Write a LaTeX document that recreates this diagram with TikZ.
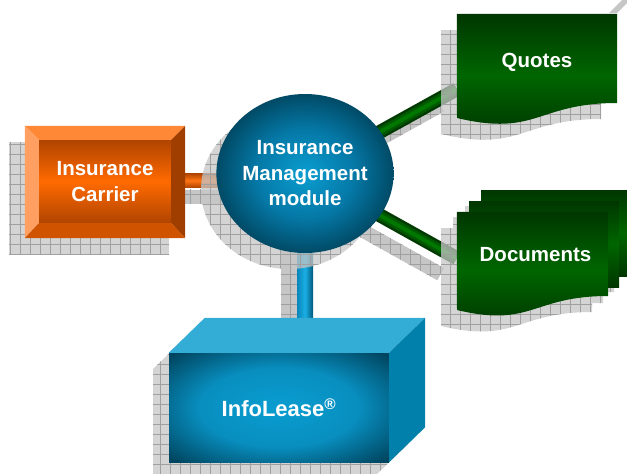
\documentclass[tikz,border=0pt]{standalone}
\usepackage{fontspec}
\setmainfont{Liberation Sans}
\usetikzlibrary{shapes.geometric,calc,patterns.meta}

\definecolor{orMid}{HTML}{FF6A00}
\definecolor{orDark}{HTML}{B04400}
\definecolor{orBar}{HTML}{FF7414}
\definecolor{orTop}{HTML}{FF8836}
\definecolor{orLeft}{HTML}{FFA062}
\definecolor{orRight}{HTML}{A03E00}
\definecolor{orBot}{HTML}{D05400}
\definecolor{blMid}{HTML}{0A9DD0}
\definecolor{blHalf}{HTML}{0578A6}
\definecolor{blDark}{HTML}{004660}
\definecolor{blTop}{HTML}{33ACD6}
\definecolor{blSide}{HTML}{0080AA}
\definecolor{blBarL}{HTML}{0A86BA}
\definecolor{blBarM}{HTML}{1AAEE4}
\definecolor{blBarR}{HTML}{00587A}
\definecolor{grMid}{HTML}{006600}
\definecolor{grDark}{HTML}{003600}
\definecolor{grBarA}{HTML}{003A00}
\definecolor{grBarB}{HTML}{005800}
\definecolor{grBarC}{HTML}{007800}
\definecolor{shGray}{HTML}{C6C6C6}
\definecolor{shLine}{HTML}{A0A0A0}

\pgfdeclareradialshading{facebright}{\pgfpoint{0bp}{0bp}}{color(0bp)=(blMid); color(14bp)=(blHalf); color(26bp)=(blDark); color(100bp)=(blDark)}
\pgfdeclareradialshading{boxbright}{\pgfpoint{0bp}{0bp}}{color(0bp)=(blMid); color(18bp)=(blMid!60!blHalf); color(34bp)=(blDark); color(100bp)=(blDark)}

\pgfdeclarelayer{barshade}
\pgfdeclarelayer{bar}
\pgfdeclarelayer{shade}
\pgfdeclarelayer{sheet}
\pgfsetlayers{barshade,bar,shade,sheet,main}

\begin{document}
\begin{tikzpicture}[x=1pt,y=-1pt]
\tikzset{
  txt/.style={text=white,font=\fontsize{20.5}{25.5}\selectfont\bfseries,align=center,inner sep=0pt},
  shadowfill/.style={preaction={fill=shGray},pattern={Hatch[distance=10pt,line width=0.7pt]},pattern color=shLine},
  greensheet/.style={top color=grDark,bottom color=grDark,middle color=grMid},
  orangeface/.style={txt,rectangle,minimum width=132pt,minimum height=83pt,top color=orDark,bottom color=orDark,middle color=orMid},
  blueface/.style={txt,shading=facebright}
}
\useasboundingbox (0,0) rectangle (627,474);

% insurance carrier
\node[orangeface] (carrier) at (105,181.5) {Insurance\\Carrier};
\fill[orTop] ([shift={(-14,-14)}]carrier.north west) -- ([shift={(14,-14)}]carrier.north east) -- (carrier.north east) -- (carrier.north west) -- cycle;
\fill[orLeft] ([shift={(-14,-14)}]carrier.north west) -- (carrier.north west) -- (carrier.south west) -- ([shift={(-14,15)}]carrier.south west) -- cycle;
\fill[orRight] ([shift={(14,-14)}]carrier.north east) -- ([shift={(14,15)}]carrier.south east) -- (carrier.south east) -- (carrier.north east) -- cycle;
\fill[orBot] ([shift={(-14,15)}]carrier.south west) -- (carrier.south west) -- (carrier.south east) -- ([shift={(14,15)}]carrier.south east) -- cycle;

% module
\node[blueface,ellipse,minimum width=176pt,minimum height=159pt] (module) at (305,173.5) {Insurance\\Management\\module};

% infolease box
\node[blueface,shading=boxbright,font=\fontsize{22}{26}\selectfont\bfseries,minimum width=220pt,minimum height=109pt] (info) at (279,407.5) {InfoLease\textsuperscript{®}};
\fill[blTop] (info.north west) -- ++(36,-35) -- ([shift={(36,-35)}]info.north east) -- (info.north east) -- cycle;
\fill[blSide] (info.north east) -- ([shift={(36,-35)}]info.north east) -- ([shift={(36,-35)}]info.south east) -- (info.south east) -- cycle;

% documents
\node[txt,minimum width=160pt,minimum height=97pt] (quotes) at (537,62.5) {Quotes};
\node[minimum width=151pt,minimum height=105pt] (docs) at (532.5,264.5) {};
\node[txt] (docslabel) at ([shift={(3,-10)}]docs.center) {Documents};

\coordinate (qin) at ($(quotes.west)!0.55!(quotes.south west)$);
\coordinate (din) at ($(docs.west)!0.12!(docs.north west)$);
\coordinate (qs) at ($(qin)+(-16,16)$);
\coordinate (ds) at ($(din)+(-16,16)$);
\coordinate (ms) at ($(module.center)+(-16,16)$);

\begin{pgfonlayer}{sheet}
\shade[greensheet] (481,190) rectangle (630,276);
\shade[greensheet] (469,201) rectangle (619,287);
\shade[greensheet] (docs.north west) -- (docs.north east) -- (608,296) .. controls (532,296) and (532,328) .. (457,310) -- cycle;
\shade[greensheet] (quotes.north west) -- (quotes.north east) -- (617,103) .. controls (537,103) and (537,137) .. (457,118) -- cycle;
\end{pgfonlayer}

% shadows
\begin{pgfonlayer}{shade}
\begin{scope}[fill opacity=0.75]
\path[shadowfill] (9,142) rectangle (169,254);
\path[shadowfill] (289,189.5) ellipse [x radius=88, y radius=79.5];
\path[shadowfill] (153,369) -- (189,334) -- (409,334) -- (409,443) -- (373,478) -- (153,478) -- cycle;
\path[shadowfill] (441,30) -- (601,30) -- (601,119) .. controls (521,119) and (521,153) .. (441,134) -- cycle;
\path[shadowfill] (441,228) -- (453,228) -- (453,217) -- (465,217) -- (465,206) -- (614,206) -- (614,292) -- (603,292)
  -- (603,303) -- (592,303) -- (592,312) .. controls (516,312) and (516,344) .. (441,326) -- cycle;
\end{scope}
\fill[shGray] (609,13) -- (622,0) -- (627,0) -- (627,3) -- (617,13) -- cycle;
\end{pgfonlayer}

% connectors
\begin{pgfonlayer}{bar}
\shade[top color=orDark,bottom color=orDark,middle color=orBar] ($(carrier.east)+(0,-8)$) rectangle ($(carrier.east -| module.center)+(0,6)$);
\shade[left color=blBarL,right color=blBarR,middle color=blBarM] ($(module.center)+(-8,0)$) rectangle ($(module.center |- info.north)+(8,0)$);
\foreach \w/\c in {14/grBarA,9/grBarB,4/grBarC} {
  \draw[line width=\w pt,\c] (module.center) -- (qin);
  \draw[line width=\w pt,\c] (module.center) -- (din);
}
\end{pgfonlayer}

\begin{pgfonlayer}{barshade}
\path[shadowfill] ($(carrier.east)+(-16,8)$) rectangle ($(carrier.east -| module.center)+(-16,22)$);
\path[shadowfill] ($(module.center)+(-24,16)$) rectangle ($(module.center |- info.north)+(-8,16)$);
\path[shadowfill] ($(ms)!7pt!90:(qs)$) -- ($(qs)!7pt!-90:(ms)$) -- ($(qs)!7pt!90:(ms)$) -- ($(ms)!7pt!-90:(qs)$) -- cycle;
\path[shadowfill] ($(ms)!7pt!90:(ds)$) -- ($(ds)!7pt!-90:(ms)$) -- ($(ds)!7pt!90:(ms)$) -- ($(ms)!7pt!-90:(ds)$) -- cycle;
\end{pgfonlayer}
\end{tikzpicture}
\end{document}
